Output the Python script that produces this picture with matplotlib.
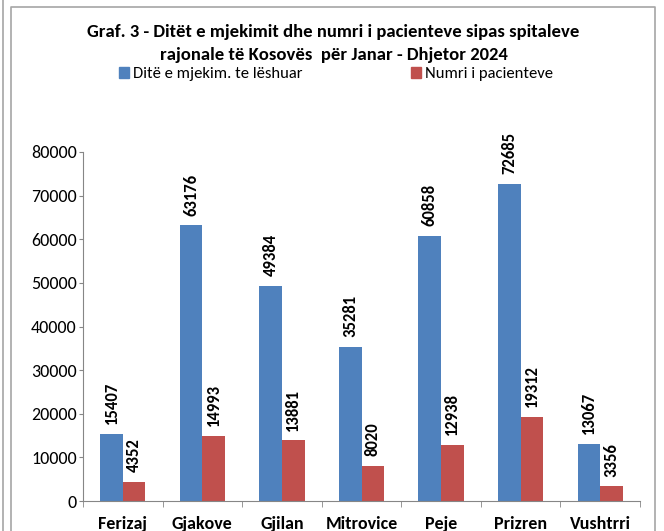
import numpy as np
import matplotlib.pyplot as plt
from matplotlib.lines import Line2D
from matplotlib.patches import Patch

plt.rcParams['font.family'] = ['Carlito', 'Lato', 'DejaVu Sans']

# Data
spitalet = ["Ferizaj", "Gjakove", "Gjilan", "Mitrovice", "Peje", "Prizren", "Vushtrri"]
ditet = [15407, 63176, 49384, 35281, 60858, 72685, 13067]
pacientet = [4352, 14993, 13881, 8020, 12938, 19312, 3356]
yticks = [0, 10000, 20000, 30000, 40000, 50000, 60000, 70000, 80000]

blue = "#4f81bd"
red = "#c0504d"
grey = "#868686"

W, H = 664, 531
fig = plt.figure(figsize=(W/100, H/100), dpi=100)
ax = fig.add_axes([83/W, 1-501/H, (640-83)/W, (501-152)/H])

x = np.arange(len(spitalet))
bw = 0.284
b1 = ax.bar(x - bw/2, ditet, bw, color=blue)
b2 = ax.bar(x + bw/2, pacientet, bw, color=red)

for bars, vals in [(b1, ditet), (b2, pacientet)]:
    for r, v in zip(bars, vals):
        ax.annotate(str(v), (r.get_x() + r.get_width()/2, r.get_height()),
                    xytext=(0, 7), textcoords='offset points', rotation=90,
                    ha='center', va='bottom', fontsize=12, fontweight='bold')

ax.set_xlim(-0.5, len(spitalet) - 0.5)
ax.set_ylim(0, 80000)
ax.set_yticks(yticks)
ax.set_yticklabels([str(t) for t in yticks], fontsize=13)
ax.set_xticks(x)
ax.set_xticklabels(spitalet, fontsize=13, fontweight='bold')
ax.tick_params(axis='x', length=0, pad=11)
ax.set_xticks(np.arange(-0.5, len(spitalet)), minor=True)
ax.tick_params(axis='x', which='minor', length=4, color=grey, direction='out')
ax.tick_params(axis='y', length=3, color=grey, direction='out', pad=1.5)
for s in ['top', 'right']:
    ax.spines[s].set_visible(False)
for s in ['left', 'bottom']:
    ax.spines[s].set_color(grey)

# titulli
fig.text(333/W, 1-32/H, "Graf. 3 - Ditët e mjekimit dhe numri i pacienteve sipas spitaleve",
         ha='center', va='center', fontsize=13.4, fontweight='bold')
fig.text(333.5/W, 1-55/H, "rajonale të Kosovës  për Janar - Dhjetor 2024",
         ha='center', va='center', fontsize=13.4, fontweight='bold')

# legjenda
emrat = ["Ditë e mjekim. te lëshuar", "Numri i pacienteve"]
for col, emri, px in [(blue, emrat[0], 119), (red, emrat[1], 411)]:
    fig.legend([Patch(color=col)], [emri], loc='center left',
               bbox_to_anchor=(px/W, 1-74/H), frameon=False, fontsize=12,
               handlelength=0.62, handleheight=0.62, handletextpad=0.2,
               borderpad=0, borderaxespad=0)

# kornizat
lc = "#a6a6a6"
fig.add_artist(Line2D([3.5/W, 3.5/W], [0, 1], color=lc, lw=1.2))
fig.add_artist(Line2D([11/W, 11/W, 655/W, 655/W], [0, 1-6.5/H, 1-6.5/H, 0], color=lc, lw=1.2))

plt.savefig("out.png", dpi=100)
